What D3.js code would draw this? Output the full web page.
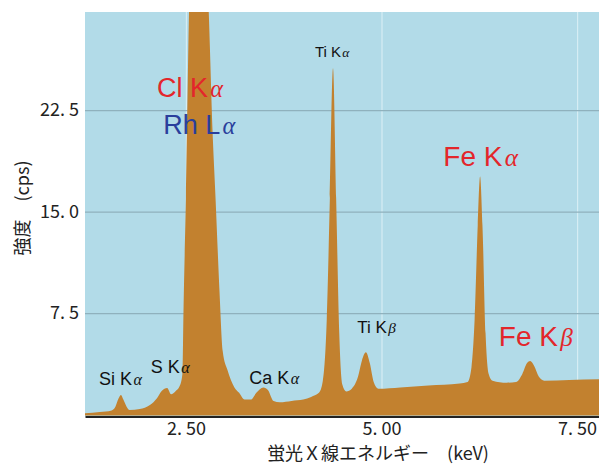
<!DOCTYPE html>
<html>
<head>
<meta charset="utf-8">
<script src="https://cdn.jsdelivr.net/npm/d3@7"></script>
<style>
  body { margin: 0; background: #fff; }
  svg text { font-family: "Noto Sans CJK JP", "Noto Sans", sans-serif; }
</style>
</head>
<body>
<div id="chart"></div>
<script>
// spectrum (keV, cps); values above the top are clipped
const energy = [1.21, 1.40, 1.55, 1.60, 1.64, 1.67, 1.70, 1.74, 1.78, 1.91, 2.04, 2.13, 2.19, 2.26, 2.31, 2.37, 2.42, 2.455,
  2.47, 2.50, 2.54, 2.58, 2.64, 2.70, 2.76, 2.79, 2.84, 2.88, 2.93, 2.97, 3.03, 3.12, 3.18, 3.25, 3.33, 3.40, 3.49, 3.55,
  3.62, 3.70, 3.85, 4.00, 4.10, 4.20, 4.25, 4.30, 4.34, 4.38, 4.42, 4.46, 4.50, 4.55, 4.62, 4.70, 4.75, 4.80, 4.85, 4.90,
  4.96, 5.24, 5.60, 6.00, 6.10, 6.15, 6.19, 6.23, 6.26, 6.29, 6.33, 6.37, 6.42, 6.60, 6.72, 6.80, 6.86, 6.90, 6.95, 7.01,
  7.08, 7.40, 7.78];
const counts = [0.1, 0.18, 0.3, 0.6, 1.2, 1.45, 1.1, 0.6, 0.33, 0.4, 0.7, 1.2, 1.74, 1.96, 1.5, 1.74, 2.1, 3.0,
  8.0, 16.0, 30.0, 40, 48, 45, 34, 30.0, 21.0, 15.8, 9.0, 4.7, 3.3, 2.0, 1.6, 1.1, 1.1, 1.6, 2.0, 1.8,
  1.0, 0.9, 1.0, 1.1, 1.3, 1.6, 2.5, 7.0, 16.0, 25.6, 16.0, 6.0, 2.2, 1.7, 1.9, 2.8, 4.0, 4.6, 3.8, 2.4,
  1.9, 2.0, 2.15, 2.3, 2.4, 3.5, 7.0, 14.0, 17.6, 14.0, 6.0, 3.0, 2.5, 2.35, 2.4, 3.0, 3.8, 3.95, 3.6, 2.8,
  2.5, 2.55, 2.6];

const xTicks = [2.5, 5.0, 7.5];
const yTicks = [7.5, 15.0, 22.5];

// peak labels
const labelText = ["Cl K", "Rh L", "Ti K", "Fe K", "Fe K", "Ti K", "Si K", "S K", "Ca K"];
const labelGreek = ["α", "α", "α", "α", "β", "β", "α", "α", "α"];
const labelKeV = [2.13, 2.21, 4.15, 5.79, 6.50, 4.69, 1.39, 2.05, 3.31];
const labelCps = [23.5, 20.7, 26.4, 18.4, 5.1, 6.0, 2.2, 3.1, 2.25];

const width = 599, height = 465;
const mLeft = 85, mRight = 599, mTop = 12, mBottom = 414.5;

const svg = d3.select("#chart").append("svg")
    .attr("width", width)
    .attr("height", height);

const x = d3.scaleLinear().domain([1.21, 7.78]).range([mLeft, mRight]);
const y = d3.scaleLinear().domain([0, 29.75]).range([mBottom, mTop]);

svg.append("rect")
    .attr("x", mLeft).attr("y", mTop)
    .attr("width", mRight - mLeft).attr("height", mBottom - mTop + 2)
    .attr("fill", "#b2dbe8");

svg.append("clipPath").attr("id", "plot")
    .append("rect")
    .attr("x", mLeft).attr("y", mTop)
    .attr("width", mRight - mLeft).attr("height", mBottom - mTop + 2);

// vertical grid
svg.append("g")
    .attr("transform", `translate(0,${mBottom})`)
    .call(d3.axisBottom(x).tickValues(xTicks).tickSize(-(mBottom - mTop)).tickFormat(""))
    .call(g => g.select(".domain").remove())
    .call(g => g.selectAll("line").attr("stroke", "#d6edf4").attr("stroke-width", 1.2));

// horizontal grid
svg.append("g")
    .attr("transform", `translate(${mLeft},0)`)
    .call(d3.axisLeft(y).tickValues(yTicks).tickSize(-(mRight - mLeft)).tickFormat(""))
    .call(g => g.select(".domain").remove())
    .call(g => g.selectAll("line").attr("stroke", "#8fb1bd").attr("stroke-width", 1.2));

const data = energy.map((e, i) => ({ e: e, c: counts[i] }));

const area = d3.area()
    .x(d => x(d.e))
    .y0(mBottom + 1)
    .y1(d => y(d.c))
    .curve(d3.curveMonotoneX);

svg.append("path")
    .datum(data)
    .attr("clip-path", "url(#plot)")
    .attr("fill", "#c2812f")
    .attr("d", area);

// bottom axis line + tick labels
svg.append("g")
    .attr("transform", `translate(0,${mBottom + 2})`)
    .call(d3.axisBottom(x).tickValues(xTicks).tickSize(0).tickPadding(6)
        .tickFormat(d => d3.format(".2f")(d).replace(".", ". ")))
    .call(g => g.select(".domain").attr("stroke", "#222").attr("stroke-width", 2))
    .call(g => g.selectAll("text").attr("font-size", 18).attr("fill", "#222")
        .style("font-family", '"Noto Sans CJK JP", sans-serif'));

svg.append("g")
    .attr("transform", `translate(${mLeft - 6},0)`)
    .call(d3.axisLeft(y).tickValues(yTicks).tickSize(0).tickPadding(0)
        .tickFormat(d => d3.format(".1f")(d).replace(".", ". ")))
    .call(g => g.select(".domain").remove())
    .call(g => g.selectAll("text").attr("font-size", 18).attr("fill", "#222")
        .style("font-family", '"Noto Sans CJK JP", sans-serif'));

// axis titles
svg.append("text")
    .attr("x", 378).attr("y", 460)
    .attr("text-anchor", "middle")
    .attr("font-size", 18)
    .attr("fill", "#222")
    .text("蛍光Ｘ線エネルギー　(keV)");

svg.append("text")
    .attr("transform", "translate(29,208) rotate(-90)")
    .attr("text-anchor", "middle")
    .attr("font-size", 18)
    .attr("fill", "#222")
    .text("強度　(cps)");

// peak annotations
const labelColor = ["#e3262b", "#2a3f9c", "#111", "#e3262b", "#e3262b", "#111", "#111", "#111", "#111"];
const labelSize = [27, 27, 15, 28, 28, 17, 18, 18, 18];

labelText.forEach((t, i) => {
    const txt = svg.append("text")
        .attr("x", x(labelKeV[i]))
        .attr("y", y(labelCps[i]))
        .attr("fill", labelColor[i])
        .attr("font-size", labelSize[i])
        .style("font-family", '"Liberation Sans", Arial, sans-serif');
    txt.append("tspan").text(t);
    txt.append("tspan")
        .attr("dx", labelSize[i] * 0.08)
        .attr("font-style", "italic")
        .attr("font-size", labelSize[i] * 0.9)
        .style("font-family", '"Liberation Serif", serif')
        .text(labelGreek[i]);
});
</script>
</body>
</html>
